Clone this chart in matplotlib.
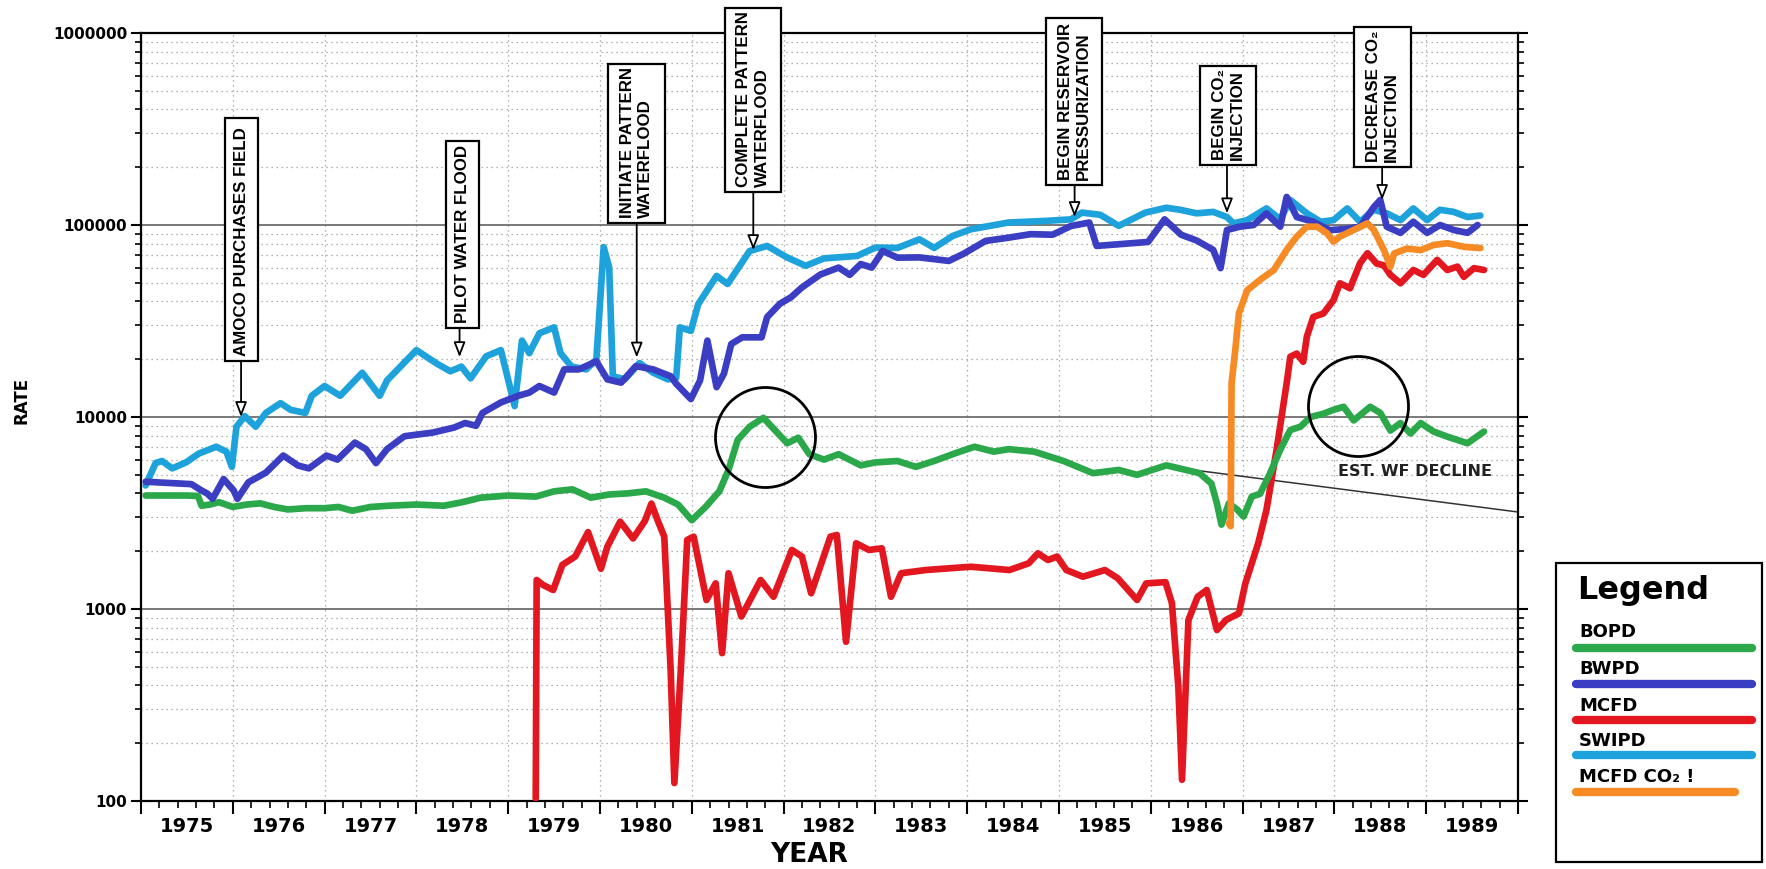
import matplotlib
matplotlib.use('Agg')
import matplotlib.pyplot as plt
from matplotlib.patches import Rectangle
from matplotlib.lines import Line2D
from matplotlib.ticker import MultipleLocator, LogLocator, NullFormatter

# ---------------- data ----------------
swipd_t = [1975.05, 1975.16, 1975.23, 1975.34, 1975.49, 1975.63, 1975.82, 1975.93, 1975.99, 1976.04,
           1976.13, 1976.25, 1976.36, 1976.52, 1976.63, 1976.79, 1976.86, 1977.0, 1977.17, 1977.41,
           1977.6, 1977.68, 1978.0, 1978.22, 1978.37, 1978.49, 1978.59, 1978.76, 1978.92, 1979.0,
           1979.07, 1979.15, 1979.23, 1979.34, 1979.50, 1979.57, 1979.69, 1979.85, 1979.96, 1980.04,
           1980.10, 1980.14, 1980.27, 1980.43, 1980.58, 1980.74, 1980.83, 1980.87, 1980.99, 1981.07,
           1981.27, 1981.39, 1981.63, 1981.82, 1982.04, 1982.24, 1982.44, 1982.80, 1983.0, 1983.24,
           1983.48, 1983.64, 1983.84, 1984.04, 1984.45, 1984.85, 1985.13, 1985.25, 1985.45, 1985.65,
           1985.94, 1986.17, 1986.32, 1986.50, 1986.68, 1986.83, 1986.90, 1987.05, 1987.26, 1987.41,
           1987.52, 1987.70, 1987.85, 1987.99, 1988.14, 1988.28, 1988.43, 1988.57, 1988.72, 1988.86,
           1989.01, 1989.15, 1989.30, 1989.45, 1989.59]
swipd_v = [4400, 5760, 5900, 5400, 5800, 6450, 7000, 6600, 5500, 8900,
           10100, 8900, 10500, 11800, 10900, 10500, 12900, 14500, 12900, 17000,
           12900, 15500, 22300, 19000, 17300, 18300, 15900, 20700, 22300, 15600,
           11400, 25000, 21500, 27300, 29300, 21500, 18300, 17700, 19900, 76700,
           60000, 16300, 15700, 19100, 17000, 15700, 16000, 29300, 28100, 38700,
           54300, 49300, 73200, 77800, 67700, 61300, 67000, 69000, 76300, 76000,
           84200, 76000, 87600, 95000, 103000, 105000, 107000, 116000, 113000, 99000,
           116000, 123000, 120000, 115000, 117000, 110000, 102000, 106000, 122000, 107000,
           135000, 115000, 104000, 106000, 122000, 104000, 120000, 115000, 106000, 122000,
           106000, 120000, 117000, 110000, 112000]

bwpd_t = [1975.05, 1975.55, 1975.66, 1975.72, 1975.78, 1975.90, 1976.01, 1976.05, 1976.17, 1976.36,
          1976.55, 1976.71, 1976.83, 1977.02, 1977.14, 1977.33, 1977.45, 1977.56, 1977.68, 1977.87,
          1978.18, 1978.41, 1978.53, 1978.65, 1978.72, 1978.92, 1979.11, 1979.23, 1979.34, 1979.50,
          1979.61, 1979.77, 1979.96, 1980.08, 1980.23, 1980.39, 1980.58, 1980.77, 1980.83, 1980.99,
          1981.09, 1981.17, 1981.27, 1981.35, 1981.43, 1981.55, 1981.76, 1981.82, 1981.96, 1982.08,
          1982.20, 1982.40, 1982.60, 1982.72, 1982.84, 1982.96, 1983.08, 1983.24, 1983.48, 1983.80,
          1983.96, 1984.2, 1984.45, 1984.69, 1984.93, 1985.13, 1985.33, 1985.41, 1985.65, 1985.97,
          1986.15, 1986.33, 1986.50, 1986.68, 1986.76, 1986.83, 1986.97, 1987.12, 1987.26, 1987.41,
          1987.48, 1987.59, 1987.77, 1987.95, 1988.14, 1988.28, 1988.43, 1988.50, 1988.57, 1988.72,
          1988.86, 1989.01, 1989.15, 1989.30, 1989.45, 1989.56]
bwpd_v = [4600, 4470, 4140, 4000, 3750, 4750, 4140, 3750, 4570, 5130,
          6300, 5590, 5400, 6300, 6000, 7360, 6800, 5750, 6800, 7940,
          8300, 8810, 9300, 9000, 10500, 11900, 12900, 13400, 14500, 13400,
          17700, 17700, 19500, 15700, 15100, 18400, 17700, 16300, 14900, 12400,
          15500, 25000, 14300, 16800, 24000, 26000, 26000, 33100, 38900, 42000,
          47300, 55200, 60000, 55000, 62600, 60000, 73200, 67600, 67800, 65000,
          70800, 82600, 85900, 89600, 89000, 98800, 103000, 77800, 79400, 81600,
          107000, 89000, 83000, 74200, 59600, 94200, 98000, 100000, 115000, 98000,
          140000, 110000, 104000, 94000, 95500, 98000, 124000, 135000, 98000, 91000,
          104000, 91000, 100000, 94200, 91000, 100000]

bopd_t = [1975.05, 1975.5, 1975.62, 1975.66, 1975.75, 1975.85, 1976.0, 1976.15, 1976.3, 1976.45,
          1976.6, 1976.8, 1977.0, 1977.15, 1977.3, 1977.5, 1977.7, 1978.0, 1978.3, 1978.5,
          1978.7, 1979.0, 1979.3, 1979.5, 1979.7, 1979.9, 1980.1, 1980.3, 1980.5, 1980.7,
          1980.85, 1981.0, 1981.15, 1981.3, 1981.4, 1981.5, 1981.63, 1981.78, 1981.88, 1982.04,
          1982.16, 1982.28, 1982.44, 1982.60, 1982.84, 1983.0, 1983.24, 1983.44, 1983.64, 1983.88,
          1984.08, 1984.29, 1984.45, 1984.73, 1985.05, 1985.37, 1985.65, 1985.85, 1986.17, 1986.53,
          1986.66, 1986.72, 1986.77, 1986.85, 1986.94, 1987.01, 1987.10, 1987.19, 1987.30, 1987.41,
          1987.52, 1987.63, 1987.74, 1987.88, 1987.99, 1988.10, 1988.21, 1988.39, 1988.50, 1988.61,
          1988.72, 1988.83, 1988.94, 1989.08, 1989.23, 1989.45, 1989.63]
bopd_v = [3900, 3900, 3880, 3450, 3500, 3600, 3400, 3500, 3550, 3400,
          3300, 3350, 3350, 3400, 3250, 3400, 3450, 3500, 3450, 3600,
          3800, 3900, 3850, 4100, 4200, 3800, 3950, 4000, 4100, 3800,
          3500, 2900, 3400, 4100, 5300, 7600, 8900, 9900, 8800, 7300,
          7800, 6400, 6000, 6400, 5600, 5800, 5900, 5500, 5900, 6500,
          7000, 6600, 6800, 6600, 5900, 5100, 5300, 5000, 5600, 5100,
          4500, 3550, 2750, 3550, 3300, 3030, 3850, 3980, 5100, 6750,
          8560, 8900, 10000, 10400, 10900, 11300, 9600, 11300, 10500, 8500,
          9300, 8200, 9300, 8400, 7900, 7300, 8400]

mcfd_t = [1979.30, 1979.31, 1979.38, 1979.49, 1979.59, 1979.73, 1979.87, 1980.01, 1980.08, 1980.22,
          1980.36, 1980.49, 1980.56, 1980.63, 1980.70, 1980.77, 1980.81, 1980.88, 1980.95, 1981.02,
          1981.16, 1981.26, 1981.33, 1981.40, 1981.54, 1981.75, 1981.89, 1982.09, 1982.20, 1982.30,
          1982.51, 1982.58, 1982.68, 1982.79, 1982.93, 1983.07, 1983.17, 1983.28, 1983.55, 1984.04,
          1984.46, 1984.67, 1984.77, 1984.88, 1984.98, 1985.08, 1985.26, 1985.50, 1985.64, 1985.85,
          1985.95, 1986.16, 1986.23, 1986.30, 1986.34, 1986.41, 1986.51, 1986.61, 1986.72, 1986.82,
          1986.96, 1987.03, 1987.17, 1987.26, 1987.37, 1987.48, 1987.52, 1987.59, 1987.66, 1987.70,
          1987.77, 1987.88, 1987.99, 1988.06, 1988.17, 1988.28, 1988.36, 1988.46, 1988.54, 1988.61,
          1988.72, 1988.86, 1988.97, 1989.12, 1989.23, 1989.34, 1989.41, 1989.52, 1989.63]
mcfd_v = [103, 1416, 1334, 1256, 1698, 1876, 2514, 1620, 2110, 2850,
          2330, 2880, 3540, 2880, 2380, 479, 124, 479, 2290, 2380,
          1114, 1360, 589, 1536, 914, 1416, 1158, 2030, 1876, 1208,
          2380, 2430, 675, 2200, 2030, 2070, 1158, 1536, 1596, 1660,
          1596, 1730, 1950, 1800, 1876, 1596, 1473, 1596, 1446, 1114,
          1360, 1380, 1072, 394, 129, 877, 1158, 1256, 777, 877,
          949, 1360, 2200, 3280, 6750, 15000, 20600, 21400, 19400, 26200,
          33200, 34600, 40600, 49700, 46800, 63300, 71300, 63000, 61600, 55000,
          49700, 58300, 55000, 65800, 58300, 60700, 53700, 59600, 58300]

co2_t = [1986.85, 1986.87, 1986.88, 1986.92, 1986.96, 1987.05, 1987.19, 1987.34, 1987.48, 1987.59,
         1987.70, 1987.81, 1987.92, 1987.99, 1988.06, 1988.21, 1988.36, 1988.43, 1988.54, 1988.61,
         1988.65, 1988.79, 1988.94, 1989.08, 1989.23, 1989.41, 1989.59]
co2_v = [2790, 2700, 15000, 22300, 34700, 45700, 51800, 58300, 74200, 87000,
         98000, 98000, 90600, 81900, 87000, 94200, 102000, 94200, 74000, 60700,
         71000, 75400, 74000, 78700, 80400, 77000, 75800]

decline_t = [1986.2, 1990.0]
decline_v = [5500, 3200]

year_labels = [str(y) for y in range(1975, 1990)]
ytick_vals = [100, 1000, 10000, 100000, 1000000]
ytick_labels = ['100', '1000', '10000', '100000', '1000000']

events = ['AMOCO PURCHASES FIELD', 'PILOT WATER FLOOD', 'INITIATE PATTERN\nWATERFLOOD',
          'COMPLETE PATTERN\nWATERFLOOD', 'BEGIN RESERVOIR\nPRESSURIZATION',
          'BEGIN CO\u2082\nINJECTION', 'DECREASE CO\u2082\nINJECTION']
event_year = [1976.09, 1978.47, 1980.40, 1981.67, 1985.17, 1986.83, 1988.52]
event_tip = [10000, 20500, 20400, 74000, 110000, 115000, 135000]

circle_t = [1981.80, 1988.26]
circle_v = [7870, 11380]

series_names = ['BOPD', 'BWPD', 'MCFD', 'SWIPD', 'MCFD CO\u2082 !']

# ---------------- style ----------------
W, H = 1766, 869
C_GREEN = '#2aa84a'
C_DBLUE = '#3b3dc2'
C_RED = '#e3171f'
C_LBLUE = '#1ea2dc'
C_ORANGE = '#f68b25'
colors = [C_GREEN, C_DBLUE, C_RED, C_LBLUE, C_ORANGE]
box_font = ['Liberation Sans', 'DejaVu Sans']

fig = plt.figure(figsize=(W / 100, H / 100), dpi=100)
fig.patch.set_facecolor('white')
ax = fig.add_axes([141 / W, 1 - 801 / H, (1518 - 141) / W, (801 - 33) / H])
ax.set_yscale('log')
ax.set_xlim(1975.0, 1990.0)
ax.set_ylim(100, 1e6)

lw = 4.8
kw = dict(lw=lw, solid_joinstyle='round', solid_capstyle='round')
ax.plot(mcfd_t, mcfd_v, color=C_RED, zorder=3, **kw)
ax.plot(bopd_t, bopd_v, color=C_GREEN, zorder=4, **kw)
ax.plot(swipd_t, swipd_v, color=C_LBLUE, zorder=4.5, **kw)
ax.plot(bwpd_t, bwpd_v, color=C_DBLUE, zorder=5, **kw)
ax.plot(co2_t, co2_v, color=C_ORANGE, zorder=6, **kw)
ax.plot(decline_t, decline_v, color='#333333', lw=1.1, zorder=2)
ax.text(1988.88, 5180, 'EST. WF DECLINE', ha='center', va='center', fontsize=11.5,
        fontweight='bold', color='#222222', zorder=7)

for ct, cv in zip(circle_t, circle_v):
    ax.plot([ct], [cv], marker='o', ms=72, mfc='none', mec='black', mew=2.0, zorder=8, clip_on=False)

# axes styling
for s in ax.spines.values():
    s.set_linewidth(1.6)
    s.set_color('black')
ax.xaxis.set_major_locator(MultipleLocator(1))
ax.xaxis.set_minor_locator(MultipleLocator(0.2))
ax.xaxis.set_major_formatter(NullFormatter())
ax.set_yticks(ytick_vals, labels=ytick_labels, fontsize=11, fontweight='bold')
ax.yaxis.set_minor_locator(LogLocator(base=10, subs=range(2, 10)))
ax.yaxis.set_minor_formatter(NullFormatter())
ax.tick_params(axis='x', which='major', direction='out', length=9, width=1.5)
ax.tick_params(axis='x', which='minor', direction='out', length=5, width=1.2)
ax.tick_params(axis='y', which='major', direction='out', length=7, width=1.5, pad=3, right=True)
ax.tick_params(axis='y', which='minor', direction='out', length=4, width=1.2, right=True)

ax.grid(which='major', axis='y', color='#555555', lw=1.1, ls='-', zorder=1)
ax.grid(which='minor', axis='y', color='#9a9a9a', lw=0.9, ls=(0, (1, 3)), zorder=1)
ax.grid(which='major', axis='x', color='#9a9a9a', lw=0.9, ls=(0, (1, 3)), zorder=1)
ax.set_axisbelow(True)

for i, lab in enumerate(year_labels):
    ax.text(1975.5 + i, -25 / 768, lab, transform=ax.get_xaxis_transform(), ha='center',
            va='center', fontsize=14, fontweight='bold')

fig.text(809 / W, 1 - 855 / H, 'YEAR', ha='center', va='center', fontsize=19, fontweight='bold')
fig.text(22 / W, 1 - 400 / H, 'RATE', ha='center', va='center', rotation=90, fontsize=12,
         fontweight='bold')

# event boxes (pixel layout of the boxes)
boxes = [(225, 258, 118, 361), (446, 479, 141, 328), (608, 665, 64, 223), (725, 781, 8, 192),
         (1046, 1102, 18, 185), (1200, 1256, 66, 165), (1354, 1411, 27, 167)]
for lab, yr, tip, (x0, x1, y0, y1) in zip(events, event_year, event_tip, boxes):
    rect = Rectangle((x0 / W, 1 - y1 / H), (x1 - x0) / W, (y1 - y0) / H, transform=fig.transFigure,
                     fc='white', ec='black', lw=1.6, zorder=9)
    fig.add_artist(rect)
    fig.text((x0 + x1) / 2 / W, 1 - (y1 - 5) / H, lab, rotation=90, ha='center', va='bottom',
             multialignment='left', fontsize=12.2, family=box_font, fontweight='bold',
             linespacing=1.25, zorder=10)
    ax.annotate('', xy=(yr, tip), xycoords='data', xytext=(yr, 1 - y1 / H),
                textcoords=('data', 'figure fraction'),
                arrowprops=dict(arrowstyle='-|>,head_length=0.9,head_width=0.35', fc='white',
                                ec='black', lw=1.3, shrinkA=0, shrinkB=0), zorder=9)

# legend drawn by hand
leg = Rectangle((1556 / W, 1 - 862 / H), (1762 - 1556) / W, (862 - 563) / H, transform=fig.transFigure,
                fc='white', ec='black', lw=1.6)
fig.add_artist(leg)
fig.text(1577 / W, 1 - 590 / H, 'Legend', ha='left', va='center', fontsize=23, fontweight='bold')
text_y = [632, 669, 706, 741, 777]
line_y = [648, 684, 720, 755, 792]
for nm, c, ty, ly in zip(series_names, colors, text_y, line_y):
    fig.text(1579 / W, 1 - ty / H, nm, ha='left', va='center', fontsize=13, fontweight='bold')
    x_end = 1735 if nm.startswith('MCFD CO') else 1752
    fig.add_artist(Line2D([1576 / W, x_end / W], [1 - ly / H, 1 - ly / H], transform=fig.transFigure,
                          color=c, lw=6, solid_capstyle='round'))

fig.savefig('out.png', dpi=100)
